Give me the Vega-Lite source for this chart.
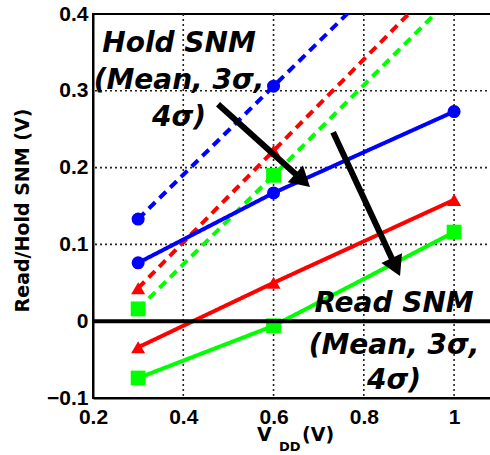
{
  "$schema": "https://vega.github.io/schema/vega-lite/v6.json",
  "width": 399,
  "height": 384,
  "autosize": {"type": "none"},
  "padding": {"left": 93, "top": 14, "right": 0, "bottom": 57},
  "background": "white",
  "config": {
    "font": "Liberation Sans",
    "view": {"stroke": "#000", "strokeWidth": 2},
    "axis": {
      "labelFont": "Liberation Sans",
      "labelFontSize": 21,
      "labelFontWeight": "bold",
      "labelColor": "#000",
      "domainColor": "#000",
      "domainWidth": 2,
      "ticks": false,
      "grid": false,
      "labelOverlap": false,
      "labelBound": false,
      "labelFlush": false
    }
  },
  "datasets": {
    "snm": [
      {"series": "Hold Mean", "type": "Hold", "level": "Mean", "vdd": 0.3, "snm": 0.133},
      {"series": "Hold Mean", "type": "Hold", "level": "Mean", "vdd": 0.6, "snm": 0.306},
      {"series": "Hold Mean", "type": "Hold", "level": "Mean", "vdd": 1.0, "snm": 0.537},
      {"series": "Hold 3σ", "type": "Hold", "level": "3σ", "vdd": 0.3, "snm": 0.043},
      {"series": "Hold 3σ", "type": "Hold", "level": "3σ", "vdd": 0.6, "snm": 0.222},
      {"series": "Hold 3σ", "type": "Hold", "level": "3σ", "vdd": 1.0, "snm": 0.46},
      {"series": "Hold 4σ", "type": "Hold", "level": "4σ", "vdd": 0.3, "snm": 0.016},
      {"series": "Hold 4σ", "type": "Hold", "level": "4σ", "vdd": 0.6, "snm": 0.19},
      {"series": "Hold 4σ", "type": "Hold", "level": "4σ", "vdd": 1.0, "snm": 0.425},
      {"series": "Read Mean", "type": "Read", "level": "Mean", "vdd": 0.3, "snm": 0.076},
      {"series": "Read Mean", "type": "Read", "level": "Mean", "vdd": 0.6, "snm": 0.167},
      {"series": "Read Mean", "type": "Read", "level": "Mean", "vdd": 1.0, "snm": 0.273},
      {"series": "Read 3σ", "type": "Read", "level": "3σ", "vdd": 0.3, "snm": -0.034},
      {"series": "Read 3σ", "type": "Read", "level": "3σ", "vdd": 0.6, "snm": 0.05},
      {"series": "Read 3σ", "type": "Read", "level": "3σ", "vdd": 1.0, "snm": 0.158},
      {"series": "Read 4σ", "type": "Read", "level": "4σ", "vdd": 0.3, "snm": -0.074},
      {"series": "Read 4σ", "type": "Read", "level": "4σ", "vdd": 0.6, "snm": -0.006},
      {"series": "Read 4σ", "type": "Read", "level": "4σ", "vdd": 1.0, "snm": 0.116}
    ],
    "arrows": [
      {"vdd": 0.477, "snm": 0.2826, "vdd2": 0.6645, "snm2": 0.1832, "angle": 132},
      {"vdd": 0.732, "snm": 0.246, "vdd2": 0.871, "snm2": 0.0704, "angle": 155}
    ],
    "notes": [
      {"vdd": 0.3906, "snm": 0.3503, "label": "Hold SNM"},
      {"vdd": 0.3906, "snm": 0.302, "label": "(Mean, 3σ,"},
      {"vdd": 0.3906, "snm": 0.254, "label": "4σ)"},
      {"vdd": 0.867, "snm": 0.0117, "label": "Read SNM"},
      {"vdd": 0.867, "snm": -0.043, "label": "(Mean, 3σ,"},
      {"vdd": 0.867, "snm": -0.0885, "label": "4σ)"}
    ],
    "xtitle": [
      {"vdd": 0.5634, "snm": -0.15625, "label": "V"},
      {"vdd": 0.6632, "snm": -0.15625, "label": "(V)"}
    ],
    "xsub": [
      {"vdd": 0.612, "snm": -0.1693, "label": "DD"}
    ],
    "zero": [
      {"snm": 0}
    ],
    "gridx": [
      {"vdd": 0.4}, {"vdd": 0.6}, {"vdd": 0.8}, {"vdd": 1.0}
    ],
    "gridy": [
      {"snm": 0.1}, {"snm": 0.2}, {"snm": 0.3}
    ]
  },
  "encoding": {
    "x": {"type": "quantitative", "scale": {"domain": [0.2, 1.084], "nice": false, "zero": false},
          "axis": {"values": [0.2, 0.4, 0.6, 0.8, 1], "format": "~g", "labelPadding": 8}, "title": null},
    "y": {"type": "quantitative", "scale": {"domain": [-0.1, 0.4], "nice": false, "zero": false},
          "axis": {"values": [-0.1, 0, 0.1, 0.2, 0.3, 0.4], "format": "~g", "labelPadding": 5,
                   "titleFont": "DejaVu Sans", "titleFontSize": 19, "titleFontWeight": "bold",
                   "titleColor": "#000", "titleX": -71, "titleY": 196, "titleBaseline": "middle", "titleAlign": "center", "titleAngle": -90},
          "title": "Read/Hold SNM (V)"}
  },
  "layer": [
    {
      "data": {"name": "gridx"},
      "mark": {"type": "rule", "color": "#222", "strokeWidth": 1.6, "strokeDash": [2, 3]},
      "encoding": {
        "x": {"field": "vdd", "type": "quantitative"},
        "y": null
      }
    },
    {
      "data": {"name": "gridy"},
      "mark": {"type": "rule", "color": "#222", "strokeWidth": 1.6, "strokeDash": [2, 3]},
      "encoding": {
        "x": null,
        "y": {"field": "snm", "type": "quantitative"}
      }
    },
    {
      "data": {"name": "snm"},
      "mark": {"type": "line", "strokeWidth": 4, "clip": true},
      "encoding": {
        "x": {"field": "vdd", "type": "quantitative"},
        "y": {"field": "snm", "type": "quantitative"},
        "color": {"field": "level", "type": "nominal", "scale": {"domain": ["Mean", "3σ", "4σ"], "range": ["#0000ff", "#ff0000", "#00ff00"]}, "legend": null},
        "strokeDash": {"field": "type", "type": "nominal", "scale": {"domain": ["Hold", "Read"], "range": [[9, 6], [1, 0]]}, "legend": null},
        "detail": {"field": "series"}
      }
    },
    {
      "data": {"name": "snm"},
      "mark": {"type": "point", "filled": true, "opacity": 1, "clip": true},
      "encoding": {
        "x": {"field": "vdd", "type": "quantitative"},
        "y": {"field": "snm", "type": "quantitative"},
        "color": {"field": "level", "type": "nominal", "scale": {"domain": ["Mean", "3σ", "4σ"], "range": ["#0000ff", "#ff0000", "#00ff00"]}, "legend": null},
        "shape": {"field": "level", "type": "nominal", "scale": {"domain": ["Mean", "3σ", "4σ"], "range": ["circle", "triangle-up", "square"]}, "legend": null},
        "size": {"field": "level", "type": "ordinal", "scale": {"domain": ["Mean", "3σ", "4σ"], "range": [170, 220, 160]}, "legend": null}
      }
    },
    {
      "data": {"name": "zero"},
      "mark": {"type": "rule", "color": "#000", "strokeWidth": 4},
      "encoding": {
        "x": null,
        "y": {"field": "snm", "type": "quantitative"}
      }
    },
    {
      "data": {"name": "arrows"},
      "mark": {"type": "rule", "color": "#000", "strokeWidth": 6, "strokeCap": "butt"},
      "encoding": {
        "x": {"field": "vdd", "type": "quantitative"},
        "y": {"field": "snm", "type": "quantitative"},
        "x2": {"field": "vdd2"},
        "y2": {"field": "snm2"}
      }
    },
    {
      "data": {"name": "arrows"},
      "mark": {"type": "point", "shape": "triangle-up", "filled": true, "color": "#000", "opacity": 1, "size": 520},
      "encoding": {
        "x": {"field": "vdd2", "type": "quantitative"},
        "y": {"field": "snm2", "type": "quantitative"},
        "angle": {"field": "angle", "type": "quantitative", "scale": null}
      }
    },
    {
      "data": {"name": "notes"},
      "mark": {"type": "text", "font": "DejaVu Sans", "fontSize": 28, "fontWeight": "bold", "fontStyle": "italic", "align": "center", "baseline": "alphabetic", "color": "#000"},
      "encoding": {
        "x": {"field": "vdd", "type": "quantitative"},
        "y": {"field": "snm", "type": "quantitative"},
        "text": {"field": "label"}
      }
    },
    {
      "data": {"name": "xtitle"},
      "mark": {"type": "text", "font": "DejaVu Sans", "fontSize": 19, "fontWeight": "bold", "align": "left", "baseline": "alphabetic", "color": "#000"},
      "encoding": {
        "x": {"field": "vdd", "type": "quantitative"},
        "y": {"field": "snm", "type": "quantitative"},
        "text": {"field": "label"}
      }
    },
    {
      "data": {"name": "xsub"},
      "mark": {"type": "text", "font": "DejaVu Sans", "fontSize": 13, "fontWeight": "bold", "align": "left", "baseline": "alphabetic", "color": "#000"},
      "encoding": {
        "x": {"field": "vdd", "type": "quantitative"},
        "y": {"field": "snm", "type": "quantitative"},
        "text": {"field": "label"}
      }
    }
  ]
}
